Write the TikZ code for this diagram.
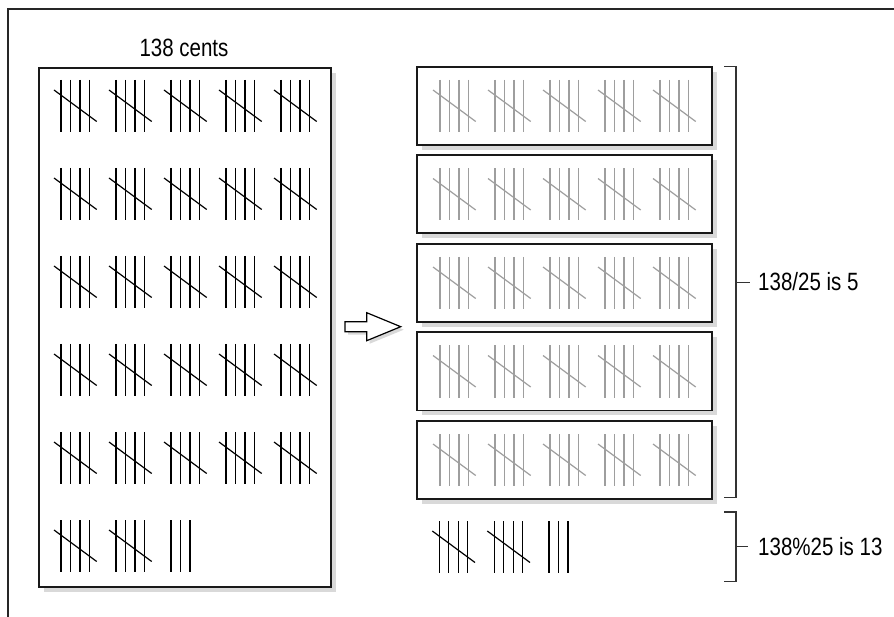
\documentclass[tikz,border=0pt]{standalone}
\usepackage{fontspec}
\setmainfont{Liberation Sans}[FakeStretch=0.82]
\usetikzlibrary{shadows}
\begin{document}
\begin{tikzpicture}[x=1pt,y=-1pt,
  frame/.style={line width=1.5pt, draw=black!85},
  shad/.style={drop shadow={opacity=1, fill=black!15, shadow xshift=5pt, shadow yshift=-5pt}},
  box/.style={draw=black!90, line width=1.6pt, fill=white, shad, inner sep=0pt, anchor=north west},
  tl/.style={line width=1.2pt, draw=black},
  tlg/.style={line width=1.2pt, draw=black!38},
  brk/.style={line width=1.5pt, draw=black!80},
  lbl/.style={font=\fontsize{25}{30}\selectfont, inner sep=0pt},
  pics/five/.style={code={
     \foreach \i in {0,1,2,3} \draw[#1] (\i*9.5,0) -- (\i*9.5,52);
     \draw[#1] (-7,10) -- (35.7,41.5);
  }},
  pics/three/.style={code={
     \foreach \i in {0,1,2} \draw[#1] (\i*9.5,0) -- (\i*9.5,52);
  }}
]
\useasboundingbox (0,0) rectangle (894,617);
% outer frame
\draw[frame] (894,9) -- (8,9) -- (8,617);

% left box
\node[box, minimum width=292pt, minimum height=519pt] (left) at (38,67) {};
\node[lbl, anchor=base] (title) at (184,57) {138 cents};
\foreach \r in {0,...,4} {
  \foreach \c in {0,...,4} {
    \pic at (61+\c*55, 80+\r*88) {five=tl};
  }
}
\pic at (61,520) {five=tl};
\pic at (116,520) {five=tl};
\pic at (171,520) {three=tl};

% arrow
\fill[black!15] (348,324.7) -- (369.7,324.7) -- (369.7,315.7) -- (403.7,329.7) -- (369.7,343.7) -- (369.7,334.7) -- (348,334.7) -- cycle;
\draw[line width=1.2pt, fill=white, line join=miter] (345,321.7) -- (366.7,321.7) -- (366.7,312.7) -- (400.7,326.7) -- (366.7,340.7) -- (366.7,331.7) -- (345,331.7) -- cycle;

% right boxes
\foreach \k in {0,...,4} {
  \node[box, minimum width=295pt, minimum height=78pt] (rb\k) at (416,66+\k*88.5) {};
  \foreach \c in {0,...,4} {
    \pic at (440+\c*55, 80+\k*88.5) {five=tlg};
  }
}

% remainder
\pic at (439.3,521) {five=tl};
\pic at (494.3,521) {five=tl};
\pic at (549,521) {three=tl};

% brackets
\coordinate (b1m) at (736,282.7);
\coordinate (b2m) at (736,546.7);
\draw[brk] (724,66.7) -| (736,497.5) -- (724,497.5);
\draw[brk] (724,512) -| (736,581.7) -- (724,581.7);
\node[lbl, anchor=base west] (q) at (758,290.7) {138/25 is 5};
\node[lbl, anchor=base west] (r) at (758,555) {138\%25 is 13};
\draw[brk] (b1m) -- ++(14,0);
\draw[brk] (b2m) -- ++(12,0);
\end{tikzpicture}
\end{document}
